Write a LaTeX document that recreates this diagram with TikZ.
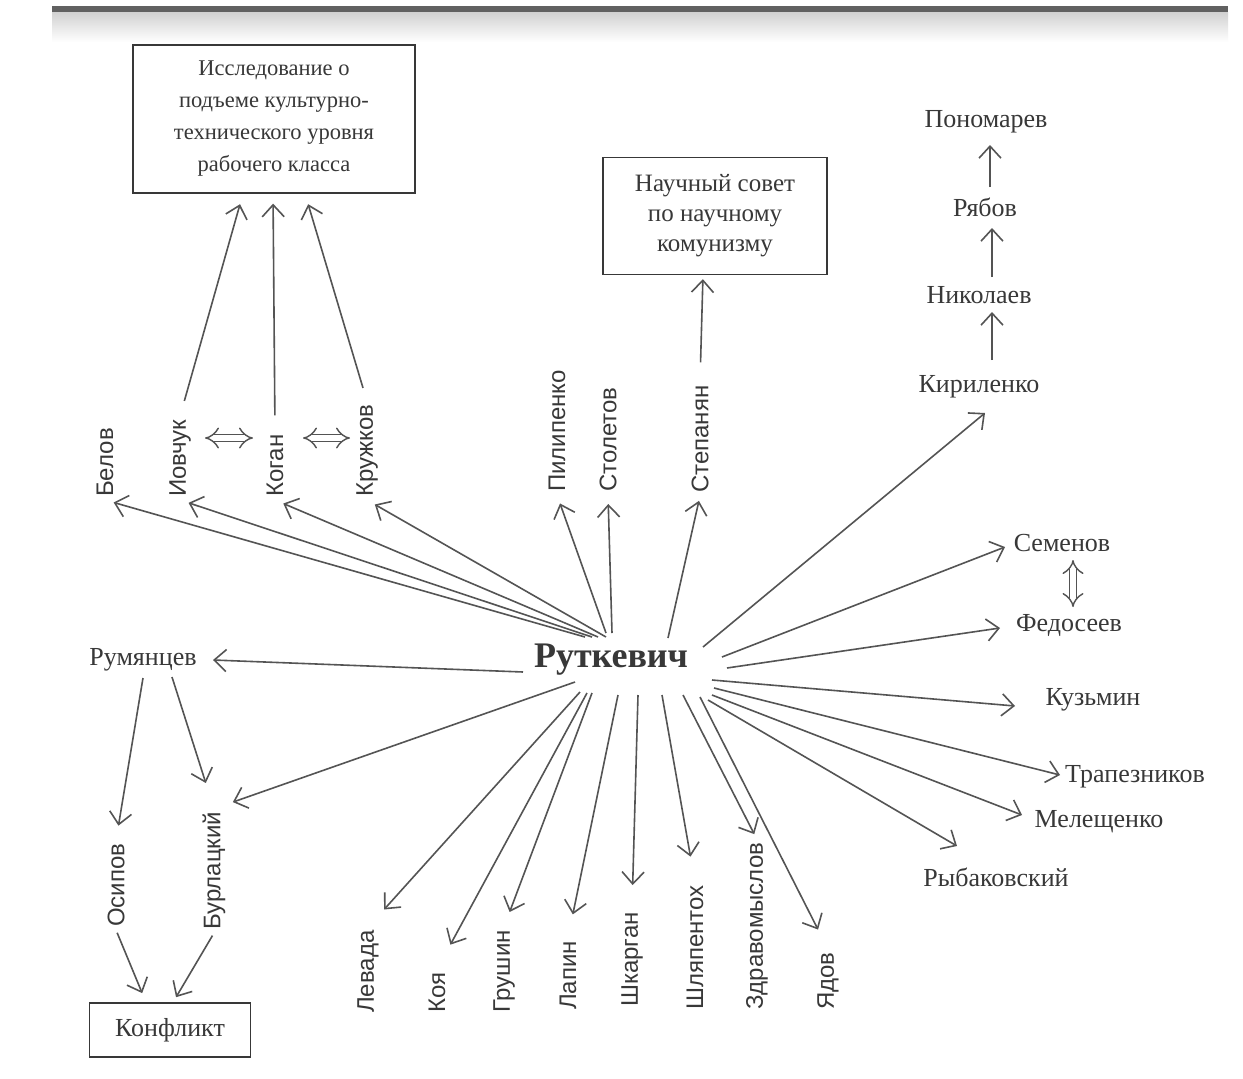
\documentclass[tikz,border=0pt]{standalone}
\usepackage{fontspec}
\setmainfont{Liberation Serif}
\setsansfont{Liberation Sans}
\usetikzlibrary{arrows.meta}
\definecolor{ink}{gray}{0.22}
\definecolor{wire}{gray}{0.33}
\begin{document}
\begin{tikzpicture}[x=1pt,y=-1pt,
  lbl/.style={font=\fontsize{26}{30}\selectfont, text=ink, inner sep=2pt},
  vlbl/.style={font=\sffamily\fontsize{24}{28}\selectfont, text=ink, rotate=90, anchor=west, inner sep=3pt},
  boxtxt/.style={draw=ink, line width=1.3pt, align=center, font=\fontsize{22.5}{32}\selectfont, text=ink},
  link/.style={draw=wire, line width=1.6pt, -{Straight Barb[length=12pt,width=22pt,line width=1.6pt]}},
  twin/.style={draw=wire, double, double distance=6pt, line width=1.4pt, {Implies[length=10pt]}-{Implies[length=10pt]}},
]
\useasboundingbox (0,0) rectangle (1243,1079);
\fill[white] (0,0) rectangle (1243,1079);
% scanned page edge at the top
\shade[top color=black!18, bottom color=white] (52,12) rectangle (1228,42);
\fill[black!62] (52,6) rectangle (1228,12);

% boxes
\node[boxtxt, minimum width=282pt, minimum height=148pt] (box1) at (274,119)
  {Исследование о\\подъеме культурно-\\технического уровня\\рабочего класса};
\node[boxtxt, font=\fontsize{25}{30}\selectfont, minimum width=224pt, minimum height=117pt] (box2) at (715,216)
  {Научный совет\\по научному\\комунизму};
\node[boxtxt, font=\fontsize{26}{30}\selectfont, minimum width=161pt, minimum height=54pt] (konf) at (170,1030) {Конфликт};

% centre
\node[font=\bfseries\fontsize{36}{42}\selectfont, text=ink] (rut) at (611,660) {Руткевич};

% horizontal names
\node[lbl] (pon)  at (986,122) {Пономарев};
\node[lbl] (ryab) at (985,207) {Рябов};
\node[lbl] (nik)  at (979,295) {Николаев};
\node[lbl] (kir)  at (979,387) {Кириленко};
\node[lbl] (sem)  at (1062,543) {Семенов};
\node[lbl] (fed)  at (1069,625) {Федосеев};
\node[lbl] (kuz)  at (1093,700) {Кузьмин};
\node[lbl] (trap) at (1135,777) {Трапезников};
\node[lbl] (mel)  at (1099,822) {Мелещенко};
\node[lbl] (ryb)  at (996,877) {Рыбаковский};
\node[lbl] (rum)  at (143,660) {Румянцев};

% vertical names, upper row
\node[vlbl] (belov) at (105,500) {Белов};
\node[vlbl] (iov)   at (180,500) {Иовчук};
\node[vlbl] (kogan) at (275,500) {Коган};
\node[vlbl] (kruzh) at (367,500) {Кружков};
\node[vlbl] (pil)   at (557,495) {Пилипенко};
\node[vlbl] (stol)  at (608,495) {Столетов};
\node[vlbl] (step)  at (700,496) {Степанян};

% vertical names, lower row
\node[vlbl] (osip)   at (116,930) {Осипов};
\node[vlbl] (burl)   at (214,933) {Бурлацкий};
\node[vlbl] (lev)    at (368,1016) {Левада};
\node[vlbl] (koya)   at (437,1016) {Коя};
\node[vlbl] (grush)  at (504,1016) {Грушин};
\node[vlbl] (lapin)  at (568,1013) {Лапин};
\node[vlbl] (shkar)  at (632,1010) {Шкарган};
\node[vlbl] (shlyap) at (695,1013) {Шляпентох};
\node[vlbl] (zdrav)  at (757,1013) {Здравомыслов};
\node[vlbl] (yadov)  at (828,1013) {Ядов};

% rays from the centre
\draw[link, shorten >=9pt] ([shift={(-26,-23)}]rut.center) -- (belov.west);
\draw[link, shorten >=9pt] ([shift={(-19,-23)}]rut.center) -- (iov.west);
\draw[link, shorten >=9pt] ([shift={(-13,-23)}]rut.center) -- (kogan.west);
\draw[link, shorten >=9pt] ([shift={(-5,-23)}]rut.center) -- (kruzh.west);
\draw[link, shorten >=9pt] ([shift={(-5,-27)}]rut.center) -- (pil.west);
\draw[link, shorten >=9pt] ([shift={(1,-27)}]rut.center) -- (stol.west);
\draw[link, shorten >=5pt] ([shift={(57,-22)}]rut.center) -- (step.west);
\draw[link] ([shift={(92,-13)}]rut.center) -- ([shift={(6,26)}]kir.center);
\draw[link] ([shift={(111,-3)}]rut.center) -- ([shift={(-57,4)}]sem.center);
\draw[link] ([shift={(116,8)}]rut.center) -- ([shift={(-69,3)}]fed.center);
\draw[link] ([shift={(101,20)}]rut.center) -- ([shift={(-78,6)}]kuz.center);
\draw[link] ([shift={(103,28)}]rut.center) -- ([shift={(-75,-2)}]trap.center);
\draw[link] ([shift={(101,35)}]rut.center) -- ([shift={(-77,-7)}]mel.center);
\draw[link] ([shift={(97,40)}]rut.center) -- ([shift={(-39,-31)}]ryb.center);
\draw[link] ([shift={(-88,12)}]rut.center) -- ([shift={(70,0)}]rum.center);
\draw[link, shorten >=20pt] ([shift={(-36,22)}]rut.center) -- (burl.east);
\draw[link, shorten >=24pt] ([shift={(-31,32)}]rut.center) -- (lev.east);
\draw[link, shorten >=28pt] ([shift={(-24,33)}]rut.center) -- (koya.east);
\draw[link, shorten >=16pt] ([shift={(-19,33)}]rut.center) -- (grush.east);
\draw[link, shorten >=24pt] ([shift={(7,35)}]rut.center) -- (lapin.east);
\draw[link, shorten >=24pt] ([shift={(27,35)}]rut.center) -- (shkar.east);
\draw[link, shorten >=26pt] ([shift={(51,35)}]rut.center) -- (shlyap.east);
\draw[link, shorten >=6pt]  ([shift={(72,35)}]rut.center) -- (zdrav.east);
\draw[link, shorten >=22pt] ([shift={(89,37)}]rut.center) -- (yadov.east);

% up to the research box
\draw[link, shorten <=16pt, shorten >=11pt] (iov.east) -- ([shift={(-31,0)}]box1.south);
\draw[link, shorten <=16pt, shorten >=10pt] (kogan.east) -- ([shift={(-1,0)}]box1.south);
\draw[link, shorten <=14pt, shorten >=11pt] (kruzh.east) -- ([shift={(31,0)}]box1.south);
\draw[twin] ([shift={(25,-62)}]iov.west) -- ([shift={(-22,-62)}]kogan.west);
\draw[twin] ([shift={(28,-62)}]kogan.west) -- ([shift={(-17,-62)}]kruzh.west);

% to the council box
\draw[link, shorten <=20pt, shorten >=4pt] (step.east) -- ([shift={(-12,0)}]box2.south);

% chain on the right
\draw[link] ([shift={(13,-27)}]kir.center) -- ([shift={(13,17)}]nik.center);
\draw[link] ([shift={(13,-18)}]nik.center) -- ([shift={(7,21)}]ryab.center);
\draw[link] ([shift={(5,-20)}]ryab.center) -- ([shift={(4,23)}]pon.center);
\draw[twin] ([shift={(11,17)}]sem.center) -- ([shift={(4,-18)}]fed.center);

% lower left
\draw[link, shorten >=15pt] ([shift={(0,18)}]rum.center) -- (osip.east);
\draw[link, shorten >=27pt] ([shift={(29,17)}]rum.center) -- (burl.east);
\draw[link, shorten <=3pt, shorten >=10pt] (osip.west) -- ([shift={(-24,0)}]konf.north);
\draw[link, shorten <=3pt, shorten >=6pt] (burl.west) -- ([shift={(3,0)}]konf.north);
\end{tikzpicture}
\end{document}
